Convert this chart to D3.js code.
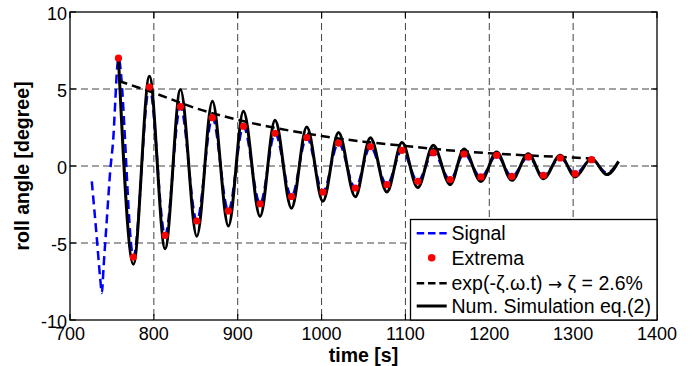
<!DOCTYPE html>
<html><head><meta charset="utf-8">
<script src="https://cdn.jsdelivr.net/npm/d3@7"></script>
<style>body{margin:0;background:#fff} svg{display:block} text{font-family:"Liberation Sans",Arial,sans-serif;fill:#000}</style>
</head><body><svg id="c" width="697" height="366"></svg>
<script>
// ---- data ----
const xTicks = [700, 800, 900, 1000, 1100, 1200, 1300, 1400];
const yTicks = [-10, -5, 0, 5, 10];

// times of local maxima and minima
const maxT = [757.8, 794.7, 831.7, 869.8, 906.8, 944.5, 982.3, 1020.2, 1058.2, 1095.9, 1133.2, 1169.8, 1208.8, 1246.5, 1284.6, 1322.0];
const minT = [775.6, 813.4, 851.2, 888.9, 926.7, 964.1, 1001.6, 1040.2, 1077.9, 1114.7, 1153.4, 1190.0, 1226.8, 1264.6, 1302.4, 1340.2];

// measured signal extrema (red markers)
const maxSignal = [7.0, 5.13, 3.85, 3.14, 2.58, 2.12, 1.85, 1.49, 1.25, 1.02, 0.86, 0.78, 0.69, 0.58, 0.52, 0.41];
const minSignal = [-5.91, -4.5, -3.57, -2.92, -2.45, -1.98, -1.69, -1.43, -1.21, -0.99, -0.88, -0.71, -0.67, -0.6, -0.5];

// numerical simulation extrema
const maxSim = [7.0, 5.82, 4.96, 4.2, 3.55, 2.97, 2.53, 2.17, 1.84, 1.52, 1.34, 1.1, 0.91, 0.8, 0.69, 0.48];
const minSim = [-6.38, -5.37, -4.56, -3.9, -3.27, -2.75, -2.29, -2.0, -1.69, -1.4, -1.21, -1.0, -0.93, -0.82, -0.71, -0.56];
const simEndT = [1354.2];
const simEndV = [0.3];

// signal lead-in before the first extremum, and tail after the last one
const leadT = [726.0, 732.0, 736.0, 738.0, 740.0, 744.0, 748.0, 752.0, 754.0, 756.0];
const leadV = [-1.0, -4.7, -7.3, -8.25, -6.6, -3.4, -0.3, 2.1, 4.2, 6.2];
const tailT = [1340.2, 1354.2];
const tailV = [-0.45, 0.25];

// envelope exp(-zeta.omega.t)
const envT = [758, 800, 850, 900, 950, 1000, 1050, 1100, 1150, 1200, 1250, 1300, 1326];
const envV = [5.52, 4.75, 3.75, 3.0, 2.42, 1.95, 1.58, 1.3, 1.03, 0.83, 0.68, 0.55, 0.48];

const legendLabels = ["Signal", "Extrema", "exp(-\u03B6.\u03C9.t) \u2192 \u03B6 = 2.6%", "Num. Simulation eq.(2)"];

// ---- layout ----
const L = 70, R = 657, T = 12, B = 320;
const svg = d3.select("#c");
const x = d3.scaleLinear().domain([700, 1400]).range([L, R]);
const y = d3.scaleLinear().domain([-10, 10]).range([B, T]);

// grid
const g = svg.append("g");
g.selectAll(".gx").data(xTicks.filter(d => d > 700 && d < 1400)).join("line")
  .attr("x1", d => x(d)).attr("x2", d => x(d)).attr("y1", T).attr("y2", B)
  .attr("stroke", "#444").attr("stroke-width", 1).attr("stroke-dasharray", "7,4");
g.selectAll(".gy").data(yTicks.filter(d => d > -10 && d < 10)).join("line")
  .attr("x1", L).attr("x2", R).attr("y1", d => y(d)).attr("y2", d => y(d))
  .attr("stroke", "#444").attr("stroke-width", 1).attr("stroke-dasharray", "7,4");

// build series
const sigPts = leadT.map((t, i) => [t, leadV[i]])
  .concat(maxT.map((t, i) => [t, maxSignal[i]]))
  .concat(minSignal.map((v, i) => [minT[i], v]))
  .concat(tailT.map((t, i) => [t, tailV[i]]))
  .sort((a, b) => a[0] - b[0]);
const simPts = maxT.map((t, i) => [t, maxSim[i]])
  .concat(minT.map((t, i) => [t, minSim[i]]))
  .concat(simEndT.map((t, i) => [t, simEndV[i]]))
  .sort((a, b) => a[0] - b[0]);
const envPts = envT.map((t, i) => [t, envV[i]]);
const extPts = maxT.map((t, i) => [t, maxSignal[i]]).concat(minSignal.map((v, i) => [minT[i], v]));

const line = d3.line().x(d => x(d[0])).y(d => y(d[1])).curve(d3.curveMonotoneX);

svg.append("path").datum(sigPts).attr("d", line).attr("fill", "none")
  .attr("stroke", "#0000ff").attr("stroke-width", 2.5).attr("stroke-dasharray", "9,5");
svg.append("path").datum(envPts).attr("d", line).attr("fill", "none")
  .attr("stroke", "#000").attr("stroke-width", 2.5).attr("stroke-dasharray", "9,5");
svg.append("path").datum(simPts).attr("d", line).attr("fill", "none")
  .attr("stroke", "#000").attr("stroke-width", 3).attr("stroke-linejoin", "round");
svg.selectAll(".ext").data(extPts).join("circle")
  .attr("cx", d => x(d[0])).attr("cy", d => y(d[1])).attr("r", 3.6).attr("fill", "#ff0000");

// axes box and ticks
svg.append("rect").attr("x", L).attr("y", T).attr("width", R - L).attr("height", B - T)
  .attr("fill", "none").attr("stroke", "#000").attr("stroke-width", 1.3);
const tk = svg.append("g").attr("stroke", "#000").attr("stroke-width", 1.2);
xTicks.forEach(d => {
  tk.append("line").attr("x1", x(d)).attr("x2", x(d)).attr("y1", B).attr("y2", B - 6);
  tk.append("line").attr("x1", x(d)).attr("x2", x(d)).attr("y1", T).attr("y2", T + 6);
});
yTicks.forEach(d => {
  tk.append("line").attr("x1", L).attr("x2", L + 6).attr("y1", y(d)).attr("y2", y(d));
  tk.append("line").attr("x1", R).attr("x2", R - 6).attr("y1", y(d)).attr("y2", y(d));
});
svg.selectAll(".xl").data(xTicks).join("text")
  .attr("x", d => x(d)).attr("y", 339.5).attr("text-anchor", "middle")
  .style("font-size", "18px").text(d => d);
svg.selectAll(".yl").data(yTicks).join("text")
  .attr("x", L - 3).attr("y", d => y(d) + 7.5).attr("text-anchor", "end")
  .style("font-size", "18px").text(d => d);

svg.append("text").attr("x", (L + R) / 2).attr("y", 362).attr("text-anchor", "middle")
  .style("font-size", "19.5px").style("font-weight", "bold").text("time [s]");
svg.append("text").attr("transform", `translate(29,${(T + B) / 2}) rotate(-90)`).attr("text-anchor", "middle")
  .style("font-size", "19.5px").style("font-weight", "bold").text("roll angle [degree]");

// legend
const lg = svg.append("g");
lg.append("rect").attr("x", 410.5).attr("y", 219.5).attr("width", R - 410.5).attr("height", B - 219.5)
  .attr("fill", "#fff").attr("stroke", "#000").attr("stroke-width", 1.3);
const rows = [233.3, 257.7, 283.3, 306];
const sx1 = 416.7, sx2 = 446.7;
lg.append("line").attr("x1", sx1).attr("x2", sx2).attr("y1", rows[0]).attr("y2", rows[0])
  .attr("stroke", "#0000ff").attr("stroke-width", 2.5).attr("stroke-dasharray", "7.5,3.8");
lg.append("circle").attr("cx", (sx1 + sx2) / 2).attr("cy", rows[1]).attr("r", 3.8).attr("fill", "#ff0000");
lg.append("line").attr("x1", sx1).attr("x2", sx2).attr("y1", rows[2]).attr("y2", rows[2])
  .attr("stroke", "#000").attr("stroke-width", 2.5).attr("stroke-dasharray", "7.5,3.8");
lg.append("line").attr("x1", sx1).attr("x2", sx2).attr("y1", rows[3]).attr("y2", rows[3])
  .attr("stroke", "#000").attr("stroke-width", 3);
lg.selectAll(".lt").data(legendLabels).join("text")
  .attr("x", 451.5).attr("y", (d, i) => rows[i] + 7).style("font-size", "19.5px")
  .each(function(d) {
    const parts = d.split("\u2192");
    const t = d3.select(this);
    t.append("tspan").text(parts[0]);
    if (parts.length > 1) {
      t.append("tspan").style("font-family", "'DejaVu Sans'").style("font-size", "17px").text("\u2192");
      t.append("tspan").text(parts[1]);
    }
  });
</script></body></html>
